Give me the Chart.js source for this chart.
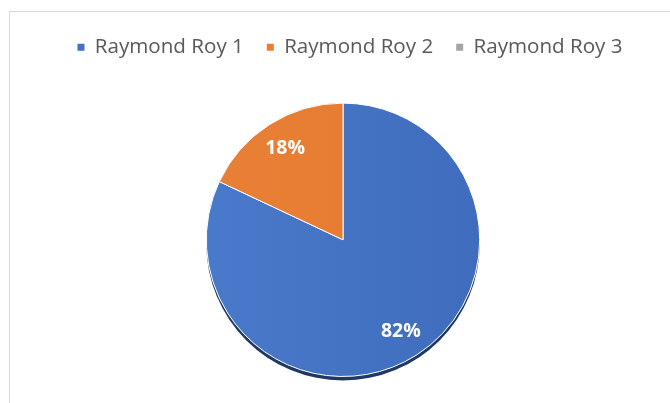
<!DOCTYPE html>
<html>
<head>
<meta charset="utf-8">
<script src="https://cdn.jsdelivr.net/npm/chart.js@4.4.1/dist/chart.umd.min.js"></script>
<style>
  html, body { margin: 0; padding: 0; background: #fff; }
  #frame { position: absolute; left: 9px; top: 11px; width: 700px; height: 420px;
           border-left: 1px solid #d9d9d9; border-top: 1px solid #d9d9d9; }
  #wrap { position: absolute; left: 0; top: 0; width: 670px; height: 403px; }
</style>
</head>
<body>
<div id="frame"></div>
<div id="wrap"><canvas id="pieChart"></canvas></div>
<script>
// datos del gráfico
const labels = ['Raymond Roy 1', 'Raymond Roy 2', 'Raymond Roy 3'];
const values = [82, 18, 0];
const colors = ['#4472C4', '#ED7D31', '#A5A5A5'];

// espacio extra debajo de la leyenda y pequeño corrimiento a la derecha
const legendGap = {
    id: 'legendGap',
    beforeInit(chart) {
        const fit = chart.legend.fit;
        chart.legend.fit = function () {
            fit.bind(chart.legend)();
            this.height += 35;
        };
    },
    afterLayout(chart) {
        chart.legend.left += 7;
        chart.legend.right += 7;
    }
};

// sombra oscura bajo el pastel
const shadowPlugin = {
    id: 'pieShadow',
    beforeDatasetsDraw(chart) {
        const arc = chart.getDatasetMeta(0).data[0];
        if (!arc) return;
        const { x, y, outerRadius } = arc.getProps(['x', 'y', 'outerRadius'], true);
        const c = chart.ctx;
        c.save();
        c.fillStyle = '#1f3864';
        c.beginPath();
        c.arc(x, y + 4, outerRadius, 0, Math.PI * 2);
        c.fill();
        c.restore();
    }
};

// etiquetas de porcentaje dentro de cada porción
const pctLabels = {
    id: 'pctLabels',
    afterDatasetsDraw(chart) {
        const c = chart.ctx;
        const total = values.reduce((a, b) => a + b, 0);
        c.save();
        c.fillStyle = '#ffffff';
        c.font = 'bold 19.5px "Open Sans", sans-serif';
        c.textAlign = 'center';
        c.textBaseline = 'middle';
        chart.getDatasetMeta(0).data.forEach((arc, i) => {
            if (!values[i]) return;
            const p = arc.getProps(['x', 'y', 'startAngle', 'endAngle', 'outerRadius'], true);
            const mid = (p.startAngle + p.endAngle) / 2;
            const r = p.outerRadius * 0.79;
            const pct = Math.round(values[i] / total * 100) + '%';
            c.fillText(pct, p.x + Math.cos(mid) * r, p.y + Math.sin(mid) * r);
        });
        c.restore();
    }
};

function shade(ctx) {
    const area = ctx.chart.chartArea;
    const base = colors[ctx.dataIndex];
    if (!area) return base;
    const g = ctx.chart.ctx.createLinearGradient(area.left + 180, 0, area.right - 180, 0);
    if (ctx.dataIndex === 0) { g.addColorStop(0, '#4a7acb'); g.addColorStop(1, '#3f6cbc'); }
    else if (ctx.dataIndex === 1) { g.addColorStop(0, '#e98037'); g.addColorStop(1, '#e57a2e'); }
    else return base;
    return g;
}

new Chart(document.getElementById('pieChart'), {
    type: 'pie',
    data: {
        labels: labels,
        datasets: [{
            data: values,
            backgroundColor: shade,
            borderColor: '#ffffff',
            borderWidth: 1
        }]
    },
    options: {
        responsive: true,
        maintainAspectRatio: false,
        animation: false,
        layout: { padding: { top: 14, bottom: 26, left: 16, right: 0 } },
        plugins: {
            tooltip: { enabled: false },
            legend: {
                position: 'top',
                labels: {
                    color: '#595959',
                    font: { family: '"Open Sans", sans-serif', size: 20.6 },
                    boxWidth: 7,
                    boxHeight: 7,
                    padding: 23,
                    generateLabels: (chart) => labels.map((t, i) => ({
                        text: t, fillStyle: colors[i], strokeStyle: colors[i],
                        lineWidth: 0, fontColor: '#595959', index: i
                    }))
                }
            }
        }
    },
    plugins: [legendGap, shadowPlugin, pctLabels]
});
</script>
</body>
</html>
